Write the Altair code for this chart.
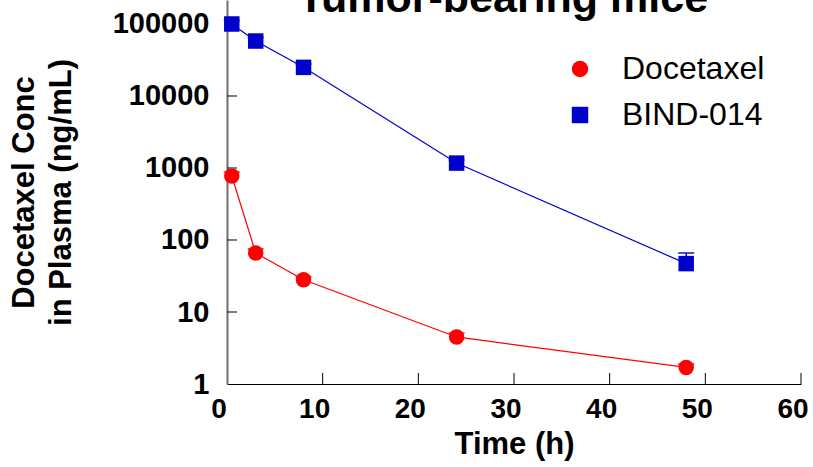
import altair as alt
import pandas as pd

# ---- data ----
times = [0.5, 3, 8, 24, 48]
docetaxel = [775, 66, 28, 4.5, 1.7]
docetaxel_upper = [880, 75, 31, 5.1, 1.9]
bind014 = [100000, 58000, 25000, 1170, 47]
bind014_upper = [112000, 65000, 28000, 1300, 66]
series_names = ["Docetaxel", "BIND-014"]
series_colors = ["#FF0000", "#0000CC"]
series_shapes = ["circle", "square"]
y_tick_values = [1, 10, 100, 1000, 10000, 100000]
y_inner_ticks = [10, 100, 1000, 10000, 100000]
x_tick_values = [0, 10, 20, 30, 40, 50, 60]
x_inner_ticks = [10, 20, 30, 40, 50, 60]
title_text = "Tumor-bearing mice"
x_title = "Time (h)"
y_title = ["Docetaxel Conc", "in Plasma (ng/mL)"]

rows = []
for name, vals, ups in [("Docetaxel", docetaxel, docetaxel_upper), ("BIND-014", bind014, bind014_upper)]:
    for t, v, u in zip(times, vals, ups):
        rows.append({"series": name, "time": t, "conc": v, "upper": u})
df = pd.DataFrame(rows)

FONT = "Liberation Sans"
W, H = 574, 384
xscale = alt.Scale(domain=[0, 60], nice=False, zero=False)
yscale = alt.Scale(type="log", domain=[1, 215443], nice=False)
cscale = alt.Scale(domain=series_names, range=series_colors)
sscale = alt.Scale(domain=series_names, range=series_shapes)
leg = alt.Legend(title=None, orient="none", legendX=337, legendY=53, labelFontSize=32,
                 labelFont=FONT, labelColor="black", symbolSize=270, symbolStrokeWidth=0,
                 symbolOpacity=1, rowPadding=14, labelOffset=26, padding=0)

xaxis = alt.Axis(values=x_tick_values, ticks=False, grid=False, labels=False,
                 title=x_title, titleFontSize=31, titleFont=FONT, titleFontWeight="bold",
                 titleColor="black", titlePadding=45, domainColor="black", domainWidth=1.2)
yaxis = alt.Axis(values=y_tick_values, format="d", ticks=False, grid=False, labelFontSize=29,
                 labelFont=FONT, labelFontWeight="bold", labelColor="black", labelPadding=18,
                 title=y_title, titleFontSize=31, titleFont=FONT, titleFontWeight="bold",
                 titleColor="black", titlePadding=35, titleLineHeight=37,
                 domainColor="#707070", domainWidth=2, labelFlush=False)

base = alt.Chart(df)
col = alt.Color("series:N", scale=cscale, legend=leg)

lines = base.mark_line(strokeWidth=1.2).encode(
    x=alt.X("time:Q", scale=xscale, axis=xaxis),
    y=alt.Y("conc:Q", scale=yscale, axis=yaxis),
    color=col,
    detail="series:N",
)

err = base.mark_rule(strokeWidth=1.5).encode(
    x=alt.X("time:Q", scale=xscale),
    y=alt.Y("conc:Q", scale=yscale),
    y2="upper:Q",
    color=col,
)
caps = base.mark_tick(orient="horizontal", size=16, thickness=2).encode(
    x=alt.X("time:Q", scale=xscale),
    y=alt.Y("upper:Q", scale=yscale),
    color=col,
)

points = base.mark_point(filled=True, opacity=1, strokeWidth=0, size=240).encode(
    x=alt.X("time:Q", scale=xscale),
    y=alt.Y("conc:Q", scale=yscale),
    color=col,
    shape=alt.Shape("series:N", scale=sscale, legend=leg),
)

yt = alt.Chart(pd.DataFrame({"v": y_inner_ticks})).mark_rule(color="black", strokeWidth=1).encode(
    y=alt.Y("v:Q", scale=yscale), x=alt.value(0), x2=alt.value(10))
xt = alt.Chart(pd.DataFrame({"t": x_inner_ticks})).mark_rule(color="black", strokeWidth=1).encode(
    x=alt.X("t:Q", scale=xscale), y=alt.value(H - 11), y2=alt.value(H))

xlabels = alt.Chart(pd.DataFrame({"t": x_tick_values})).mark_text(
    font=FONT, fontSize=28, fontWeight="bold", color="black", align="center", baseline="top", dx=-8
).encode(x=alt.X("t:Q", scale=xscale), y=alt.value(H + 12), text=alt.Text("t:Q", format="d"))

title = alt.Chart(pd.DataFrame({"t": [title_text]})).mark_text(
    font=FONT, fontSize=43, fontWeight="bold", color="black", align="center", baseline="alphabetic"
).encode(text="t:N", x=alt.value(276), y=alt.value(12))

chart = alt.layer(lines, err, caps, yt, xt, points, xlabels, title).properties(
    width=W, height=H,
    background="white",
    autosize=alt.AutoSizeParams(type="none"),
    padding={"left": 227, "top": 0, "right": 12, "bottom": 83},
).configure_view(stroke=None)

chart.save("out.html", embed_options={"renderer": "svg", "actions": False})
